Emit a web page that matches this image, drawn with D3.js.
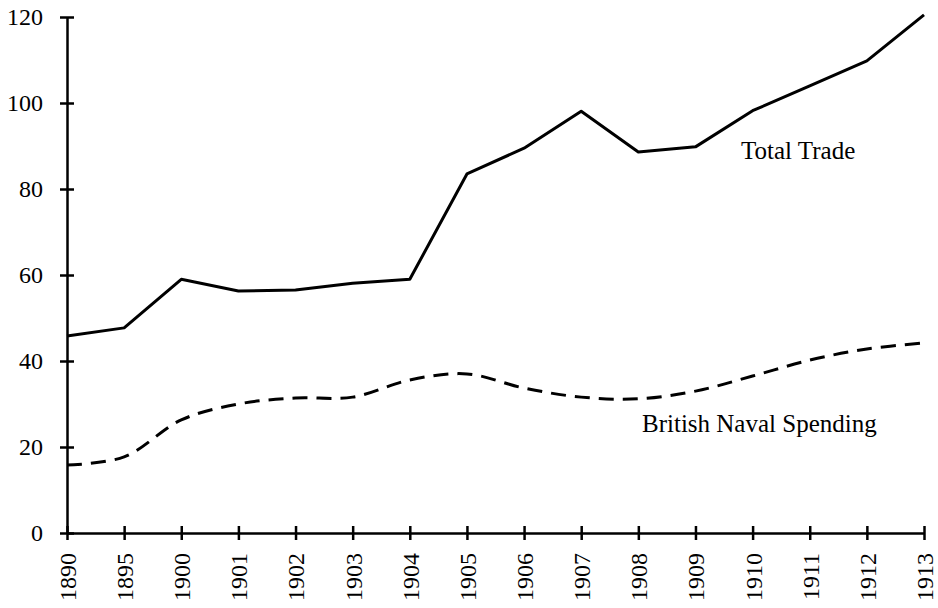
<!DOCTYPE html>
<html>
<head>
<meta charset="utf-8">
<script src="https://cdn.jsdelivr.net/npm/d3@7"></script>
<style>
  body { margin: 0; background: #fff; }
  svg { display: block; font-family: "Liberation Serif", "Times New Roman", serif; }
</style>
</head>
<body>
<div class="svg-div"></div>
<script>
// data
const years = ["1890","1895","1900","1901","1902","1903","1904","1905","1906","1907","1908","1909","1910","1911","1912","1913"]
const totalTrade = [45.8, 47.7, 59.0, 56.3, 56.5, 58.1, 59.0, 83.5, 89.5, 98.1, 88.6, 89.8, 98.2, 104.0, 109.8, 120.5]
const navalSpending = [15.8, 17.7, 26.3, 30.0, 31.4, 31.6, 35.6, 37.0, 33.7, 31.6, 31.2, 33.0, 36.5, 40.2, 42.8, 44.2]
const yTicks = [0, 20, 40, 60, 80, 100, 120]
const seriesLabels = ["Total Trade", "British Naval Spending"]

const width = 938, height = 608
const margin = {top: 17, right: 14, bottom: 75, left: 67}

const svg = d3.select(".svg-div").append("svg")
    .attr("width", width)
    .attr("height", height)

let xScale = d3.scalePoint()
    .domain(years)
    .range([margin.left, width - margin.right])
    .padding(0)

let yScale = d3.scaleLinear()
    .domain([0, 120])
    .range([height - margin.bottom, margin.top])

// x axis, ticks cross the line
let gx = svg.append("g")
    .attr("transform", "translate(0," + (height - margin.bottom) + ")")
    .call(d3.axisBottom(xScale).tickSize(7).tickSizeOuter(0))
gx.select(".domain").attr("stroke", "#000").attr("stroke-width", 2.5)
gx.selectAll(".tick line").attr("y1", -7).attr("stroke-width", 2.5)
gx.selectAll(".tick text")
    .attr("transform", "rotate(-90)")
    .attr("text-anchor", "end")
    .attr("x", -20)
    .attr("y", 0)
    .attr("dy", "0.35em")
    .attr("font-size", 24)
    .attr("font-family", "Liberation Serif, Times New Roman, serif")
    .attr("fill", "#000")

// y axis
let gy = svg.append("g")
    .attr("transform", "translate(" + margin.left + ",0)")
    .call(d3.axisLeft(yScale).tickValues(yTicks).tickSize(7).tickSizeOuter(0))
gy.select(".domain").attr("stroke", "#000").attr("stroke-width", 2.5)
gy.selectAll(".tick line").attr("x1", 7).attr("stroke-width", 2.5)
gy.selectAll(".tick text")
    .attr("x", -24)
    .attr("font-size", 24)
    .attr("font-family", "Liberation Serif, Times New Roman, serif")
    .attr("fill", "#000")

// lines
let tradeLine = d3.line()
    .x((d, i) => xScale(years[i]))
    .y(d => yScale(d))

let navalLine = d3.line()
    .x((d, i) => xScale(years[i]))
    .y(d => yScale(d))
    .curve(d3.curveCatmullRom)

svg.append("path")
    .datum(totalTrade)
    .attr("d", tradeLine)
    .attr("fill", "none")
    .attr("stroke", "#000")
    .attr("stroke-width", 3)
    .attr("stroke-linejoin", "round")

svg.append("path")
    .datum(navalSpending)
    .attr("d", navalLine)
    .attr("fill", "none")
    .attr("stroke", "#000")
    .attr("stroke-width", 3)
    .attr("stroke-dasharray", "15,9")

// series labels
svg.append("text")
    .attr("x", 741)
    .attr("y", 159)
    .attr("font-size", 25)
    .attr("fill", "#000")
    .text(seriesLabels[0])

svg.append("text")
    .attr("x", 642)
    .attr("y", 432)
    .attr("font-size", 25)
    .attr("fill", "#000")
    .text(seriesLabels[1])
</script>
</body>
</html>
